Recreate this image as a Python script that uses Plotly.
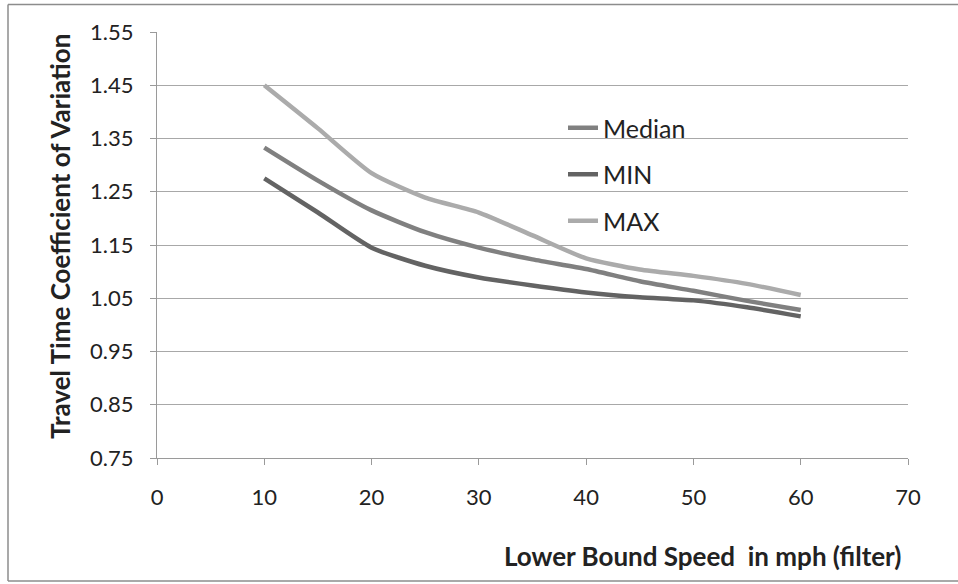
import plotly.graph_objects as go

speed = [10, 15, 20, 25, 30, 35, 40, 45, 50, 55, 60]
median = [1.333, 1.271, 1.215, 1.174, 1.145, 1.123, 1.105, 1.082, 1.064, 1.045, 1.028]
min_v = [1.275, 1.211, 1.145, 1.111, 1.089, 1.074, 1.061, 1.052, 1.046, 1.033, 1.016]
max_v = [1.450, 1.369, 1.285, 1.239, 1.211, 1.168, 1.125, 1.104, 1.092, 1.077, 1.056]

series = [("Median", median, "#808080"), ("MIN", min_v, "#636363"), ("MAX", max_v, "#ababab")]

W, H = 958, 584
L, R, T, B = 157, 50, 32, 126
pw, ph = W - L - R, H - T - B


def px(xpix):
    return (xpix - L) / pw


def py(ypix):
    return 1 - (ypix - T) / ph


fig = go.Figure()
for i, (name, vals, col) in enumerate(series):
    fig.add_trace(go.Scatter(x=speed, y=vals, mode="lines", name=name,
                             legendgroup=str(i),
                             line=dict(color=col, width=4.5, shape="spline", smoothing=0.6)))

font = "Lato, 'Open Sans', sans-serif"
fig.update_layout(
    width=W, height=H,
    margin=dict(l=L, r=R, t=T, b=B, autoexpand=False),
    paper_bgcolor="white", plot_bgcolor="white",
    font=dict(family=font, size=22, color="#222222"),
    showlegend=True,
    legend=dict(x=px(563), y=py(105), xanchor="left", yanchor="top",
                font=dict(size=25, color="#222222"), tracegroupgap=11,
                bgcolor="rgba(0,0,0,0)"),
    xaxis=dict(range=[0, 70], tick0=0, dtick=10, showgrid=False,
               showline=True, linecolor="#9a9a9a", linewidth=1,
               ticks="outside", ticklen=6, tickcolor="#9a9a9a",
               ticklabelstandoff=14, zeroline=False, fixedrange=True,
               automargin=False),
    yaxis=dict(range=[0.75, 1.55], tick0=0.75, dtick=0.1, tickformat=".2f",
               showgrid=True, gridcolor="#a8a8a8", gridwidth=1,
               showline=True, linecolor="#9a9a9a", linewidth=1,
               ticks="outside", ticklen=6, tickcolor="#9a9a9a",
               ticklabelstandoff=12, zeroline=False, automargin=False,
               fixedrange=True),
)

fig.add_annotation(text="<b>Travel Time Coefficient of Variation</b>", xref="paper", yref="paper",
                   x=px(60), y=py(237), xanchor="center", yanchor="middle", textangle=-90,
                   showarrow=False, font=dict(size=26, color="#222222"))

fig.add_annotation(text="<b>Lower Bound Speed  in mph (filter)</b>", xref="paper", yref="paper",
                   x=px(903), y=py(556), xanchor="right", yanchor="middle",
                   showarrow=False, font=dict(size=26, color="#222222"))

border = dict(color="#8c8c8c", width=1.5)
fig.add_shape(type="line", xref="paper", yref="paper", x0=px(8), x1=px(8), y0=py(581), y1=py(4.5), line=border)
fig.add_shape(type="line", xref="paper", yref="paper", x0=px(8), x1=px(960), y0=py(4.5), y1=py(4.5), line=border)
fig.add_shape(type="line", xref="paper", yref="paper", x0=px(8), x1=px(960), y0=py(581), y1=py(581), line=border)

fig.write_html("out.html", config={"displayModeBar": False},
               post_script="document.body.style.margin='0px';")
